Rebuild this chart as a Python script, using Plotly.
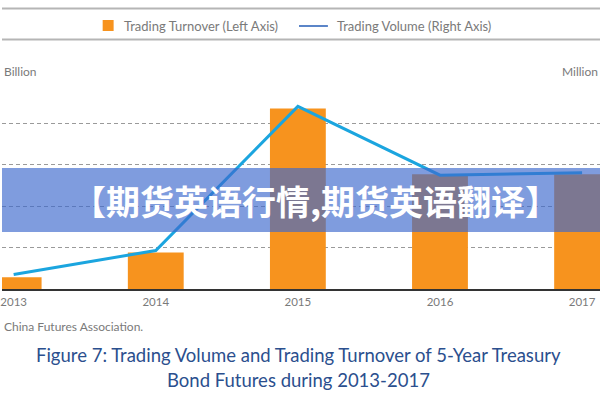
import plotly.graph_objects as go

years = [2013, 2014, 2015, 2016, 2017]
turnover = [285, 880, 4360, 2770, 2770]      # left axis, RMB billion
volume = [0.35, 0.93, 4.41, 2.75, 2.81]      # right axis, million contracts
tick_labels = ["2013", "2014", "2015", "2016", "2017"]

W, H = 600, 400
T, B = 82, 111
PH = H - T - B


def px(x):
    return x / W


def py(y):
    return (H - B - y) / PH


ORANGE = "#F7931E"
CYAN = "#1BA5DF"
GREY = "#7a7a7a"
FONT = "Lato"

fig = go.Figure()
fig.add_trace(go.Bar(x=years, y=turnover, width=0.393, marker=dict(color=ORANGE, line=dict(width=0)),
                     name="Trading Turnover (Left Axis)", showlegend=False))
fig.add_trace(go.Scatter(x=years, y=volume, yaxis="y2", mode="lines",
                         line=dict(color=CYAN, width=3), name="Trading Volume (Right Axis)", showlegend=False))

fig.update_layout(
    width=W, height=H,
    margin=dict(l=0, r=0, t=T, b=B, pad=0),
    paper_bgcolor="white", plot_bgcolor="white",
    xaxis=dict(range=[2012.918, 2017.126], tickmode="array", tickvals=years, ticktext=tick_labels,
               showgrid=False, zeroline=False, showline=True, linecolor="#333", linewidth=1.5,
               ticks="", tickfont=dict(family=FONT, size=11.5, color=GREY), ticklabelstandoff=1,
               ticklabeloverflow="allow"),
    yaxis=dict(range=[0, 5000], dtick=1000, showticklabels=False, showgrid=True,
               gridcolor="#9a9a9a", griddash="4px,3px", gridwidth=1, zeroline=False),
    yaxis2=dict(range=[0, 5], overlaying="y", side="right", showticklabels=False,
                showgrid=False, zeroline=False),
    showlegend=False,
    font=dict(family=FONT),
)

shapes = [
    dict(type="line", xref="paper", yref="paper", x0=0, x1=1, y0=py(8.5), y1=py(8.5),
         line=dict(color="#b5b5b5", width=2)),
    dict(type="line", xref="paper", yref="paper", x0=0, x1=1, y0=py(39.5), y1=py(39.5),
         line=dict(color="#b5b5b5", width=2)),
    # legend swatches
    dict(type="rect", xref="paper", yref="paper", x0=px(101), x1=px(112), y0=py(31), y1=py(20),
         fillcolor=ORANGE, line=dict(width=0)),
    dict(type="line", xref="paper", yref="paper", x0=px(298), x1=px(327), y0=py(26), y1=py(26),
         line=dict(color="#5b85c8", width=2)),
    # overlay banner
    dict(type="rect", xref="paper", yref="paper", x0=0, x1=1, y0=py(232), y1=py(168),
         fillcolor="rgba(60,105,205,0.66)", line=dict(width=0), layer="above"),
]

annotations = [
    dict(text="Trading Turnover (Left Axis)", x=px(120), y=py(26), xanchor="left", yanchor="middle",
         font=dict(family=FONT, size=13, color=GREY)),
    dict(text="Trading Volume (Right Axis)", x=px(334), y=py(26), xanchor="left", yanchor="middle",
         font=dict(family=FONT, size=13, color=GREY)),
    dict(text="Billion", x=px(0), y=py(71), xanchor="left", yanchor="middle",
         font=dict(family=FONT, size=12, color=GREY)),
    dict(text="Million", x=px(600), y=py(71), xanchor="right", yanchor="middle",
         font=dict(family=FONT, size=12, color=GREY)),
    dict(text="China Futures Association.", x=px(0), y=py(326), xanchor="left", yanchor="middle",
         font=dict(family=FONT, size=12, color=GREY)),
    dict(text="Figure 7: Trading Volume and Trading Turnover of 5-Year Treasury", x=px(297), y=py(355),
         xanchor="center", yanchor="middle", font=dict(family=FONT, size=18.5, color="#2b4f8e")),
    dict(text="Bond Futures during 2013-2017", x=px(297), y=py(380),
         xanchor="center", yanchor="middle", font=dict(family=FONT, size=18.5, color="#2b4f8e")),
    dict(text="<b>【期货英语行情,期货英语翻译】</b>", x=px(315), y=py(200), xanchor="center", yanchor="middle",
         font=dict(family="Noto Sans CJK SC", size=34, color="white")),
]
for a in annotations:
    a.update(xref="paper", yref="paper", showarrow=False)

fig.update_layout(shapes=shapes, annotations=annotations)
fig.write_html("out.html")
